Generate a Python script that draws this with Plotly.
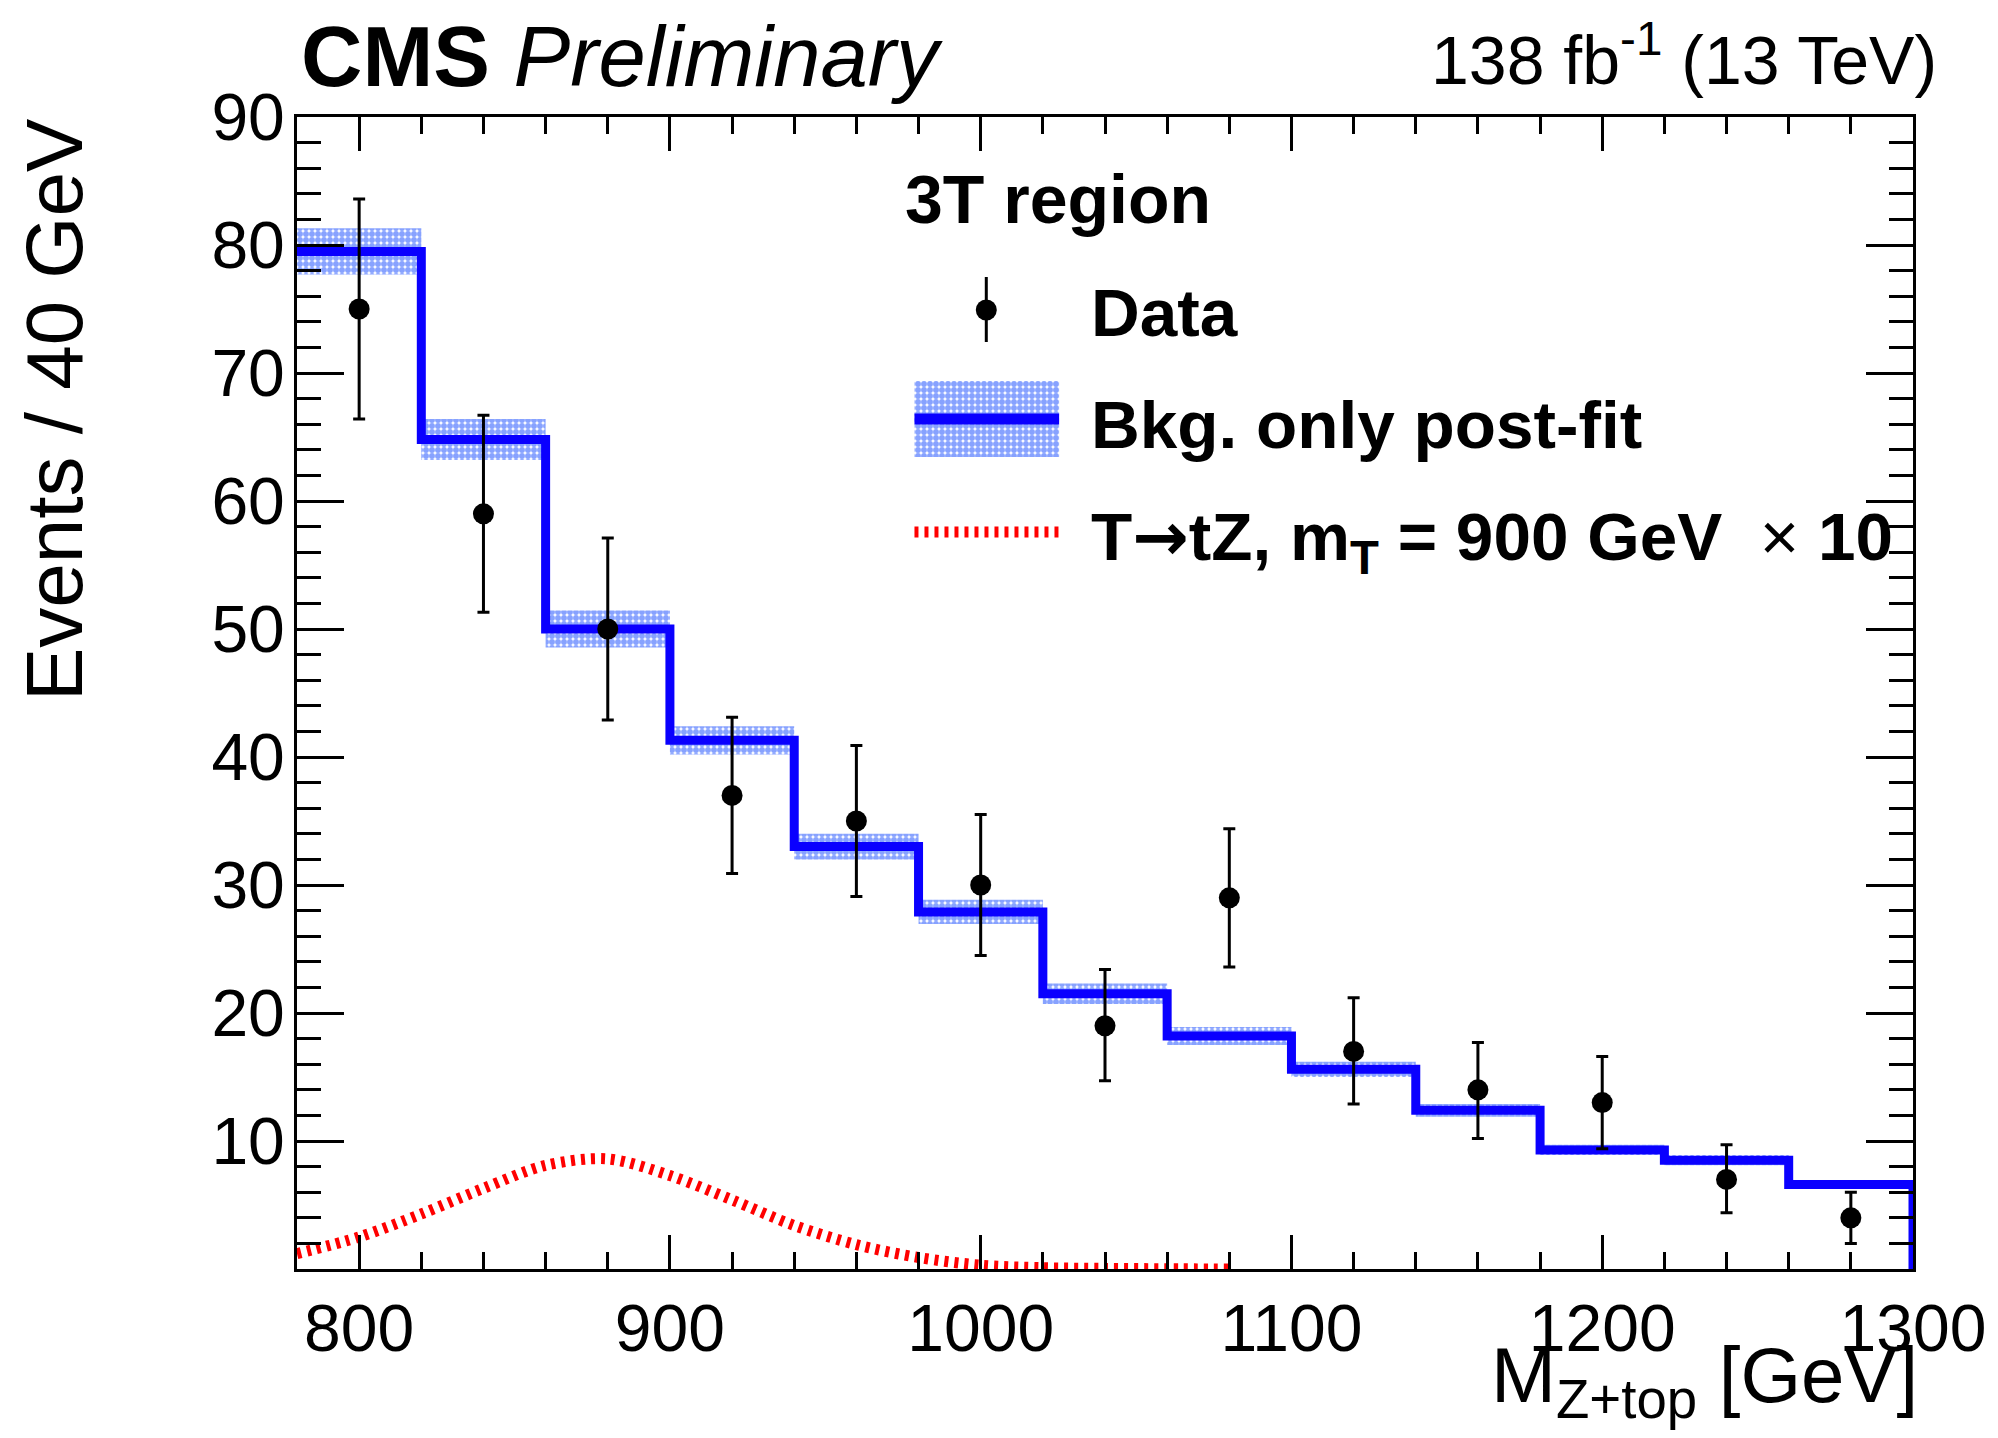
import plotly.graph_objects as go

# ---------------- data ----------------
bin_edges = [780, 820, 860, 900, 940, 980, 1020, 1060, 1100, 1140, 1180, 1220, 1260, 1300]
bkg_postfit = [79.5, 64.8, 50.0, 41.3, 33.0, 27.9, 21.5, 18.2, 15.6, 12.4, 9.3, 8.5, 6.6]
bkg_unc = [1.8, 1.6, 1.45, 1.1, 1.0, 0.95, 0.8, 0.7, 0.6, 0.5, 0.4, 0.4, 0.35]

data_x = [800, 840, 880, 920, 960, 1000, 1040, 1080, 1120, 1160, 1200, 1240, 1280]
data_y = [75, 59, 50, 37, 35, 30, 19, 29, 17, 14, 13, 7, 4]
data_err_up = [8.6, 7.7, 7.1, 6.1, 5.9, 5.5, 4.4, 5.4, 4.2, 3.7, 3.6, 2.7, 2.0]
data_err_dn = [8.6, 7.7, 7.1, 6.1, 5.9, 5.5, 4.3, 5.4, 4.1, 3.8, 3.6, 2.6, 2.0]

sig_x = [780, 800, 820, 840, 860, 880, 900, 920, 940, 960, 980, 1000, 1020, 1040, 1060, 1080]
sig_y = [1.2, 2.5, 4.3, 6.3, 8.1, 8.6, 7.3, 5.4, 3.4, 1.9, 0.9, 0.3, 0.1, 0.05, 0.02, 0.0]

x_ticks = [800, 900, 1000, 1100, 1200, 1300]
y_ticks = [10, 20, 30, 40, 50, 60, 70, 80, 90]

FONT = "Liberation Sans, Arial, Helvetica, sans-serif"
BLUE = "#0a00ff"
BAND = "#0f45ff"

# ---------------- build step shapes from the histogram ----------------
step_x, step_y = [], []
for i, v in enumerate(bkg_postfit):
    step_x += [bin_edges[i], bin_edges[i + 1]]
    step_y += [v, v]
step_x.append(bin_edges[-1])
step_y.append(0)

up_x, up_y, lo_x, lo_y = [], [], [], []
for i, v in enumerate(bkg_postfit):
    up_x += [bin_edges[i], bin_edges[i + 1]]
    up_y += [v + bkg_unc[i]] * 2
    lo_x += [bin_edges[i], bin_edges[i + 1]]
    lo_y += [v - bkg_unc[i]] * 2
band_x = up_x + lo_x[::-1] + [up_x[0]]
band_y = up_y + lo_y[::-1] + [up_y[0]]

PATTERN = dict(shape=".", fgcolor=BAND, bgcolor="rgba(255,255,255,0)", size=6, solidity=0.75)

fig = go.Figure()

fig.add_trace(go.Scatter(
    x=band_x, y=band_y, mode="lines", fill="toself",
    line=dict(width=0, color=BAND), fillcolor="rgba(0,0,0,0)",
    fillpattern=PATTERN, hoverinfo="skip", name="Bkg. uncertainty"))

fig.add_trace(go.Scatter(
    x=step_x, y=step_y, mode="lines", line=dict(color=BLUE, width=9),
    name="Bkg. only post-fit"))

fig.add_trace(go.Scatter(
    x=sig_x, y=sig_y, mode="lines",
    line=dict(color="#ff0000", width=11, dash="4px,6px", shape="spline", smoothing=0.9),
    name="T→tZ, m_T = 900 GeV x 10"))

fig.add_trace(go.Scatter(
    x=data_x, y=data_y, mode="markers",
    marker=dict(color="black", size=21, symbol="circle"),
    error_y=dict(type="data", symmetric=False, array=data_err_up, arrayminus=data_err_dn,
                 color="black", thickness=3, width=6),
    name="Data"))

# ---------------- legend glyphs on a pixel overlay axis ----------------
LX = dict(xaxis="x2", yaxis="y2", hoverinfo="skip", showlegend=False)
fig.add_trace(go.Scatter(x=[988, 988], y=[277, 342], mode="lines",
                         line=dict(color="black", width=3), **LX))
fig.add_trace(go.Scatter(x=[988], y=[310], mode="markers",
                         marker=dict(color="black", size=21), **LX))
fig.add_trace(go.Scatter(x=[916, 1061, 1061, 916, 916], y=[381, 381, 457, 457, 381],
                         mode="lines", fill="toself", line=dict(width=0, color=BAND),
                         fillcolor="rgba(0,0,0,0)", fillpattern=PATTERN, **LX))
fig.add_trace(go.Scatter(x=[916, 1061], y=[419, 419], mode="lines",
                         line=dict(color=BLUE, width=11), **LX))
fig.add_trace(go.Scatter(x=[916, 1061], y=[532, 532], mode="lines",
                         line=dict(color="#ff0000", width=11, dash="4px,6px"), **LX))

# page geometry (the page body adds an 8px offset)
OFF = 8
L, R, T, B = 297, 1917, 117, 1269
W, H = R - L, B - T
FIG_W, FIG_H = 1998 - OFF, 1438 - OFF


def px(xp):
    return (xp - L) / W


def py(yp):
    return (B - yp) / H


ann = []


def text(s, x, y, size, xanchor="left", yanchor="middle", angle=0):
    ann.append(dict(text=s, x=px(x), y=py(y), xref="paper", yref="paper",
                    xanchor=xanchor, yanchor=yanchor, showarrow=False, textangle=angle,
                    font=dict(family=FONT, size=size, color="black")))


ARROW = '<span style="font-family:DejaVu Sans">\u2192</span>'
text("<b>CMS</b> <i>Preliminary</i>", 299, 56, 85)
text("138 fb<sup>-1</sup> (13 TeV)", 1943, 55, 68, xanchor="right")
text("<b>3T region</b>", 905, 199, 68)
text("<b>Data</b>", 1091, 313, 67.5)
text("<b>Bkg. only post-fit</b>", 1091, 424, 67.5)
text("<b>T" + ARROW + "tZ, m<sub>T</sub> = 900 GeV</b>\u00a0\u00a0\u00d7\u00a0<b>10</b>",
     1091, 540, 67.5)
text("Events / 40 GeV", 54, 116, 80, xanchor="center", yanchor="top", angle=-90)
text("M<sub>Z+top</sub> [GeV]", 1924, 1380, 78, xanchor="right")

fig.update_layout(
    width=FIG_W, height=FIG_H,
    margin=dict(l=L - OFF, r=1998 - R, t=T - OFF, b=1438 - B),
    plot_bgcolor="white", paper_bgcolor="white",
    showlegend=False,
    font=dict(family=FONT, color="black"),
    annotations=ann,
    xaxis=dict(range=[780, 1300], tickvals=x_ticks, ticks="inside", ticklen=34, tickwidth=3,
               tickcolor="black", showline=True, linecolor="black", linewidth=3, mirror="ticks",
               showgrid=False, zeroline=False, tickfont=dict(size=66, family=FONT),
               minor=dict(ticks="inside", ticklen=17, tickwidth=3, dtick=20, tick0=780,
                          tickcolor="black", showgrid=False)),
    yaxis=dict(range=[0, 90], tickvals=y_ticks, ticks="inside", ticklen=47, tickwidth=3,
               tickcolor="black", showline=True, linecolor="black", linewidth=3, mirror="ticks",
               showgrid=False, zeroline=False, tickfont=dict(size=66, family=FONT),
               ticklabelstandoff=-4,
               minor=dict(ticks="inside", ticklen=24, tickwidth=3, dtick=2, tick0=0,
                          tickcolor="black", showgrid=False)),
    xaxis2=dict(range=[L, R], overlaying="x", anchor="y2", visible=False, fixedrange=True),
    yaxis2=dict(range=[B, T], overlaying="y", anchor="x2", visible=False, fixedrange=True),
)

fig.write_html("out.html")
